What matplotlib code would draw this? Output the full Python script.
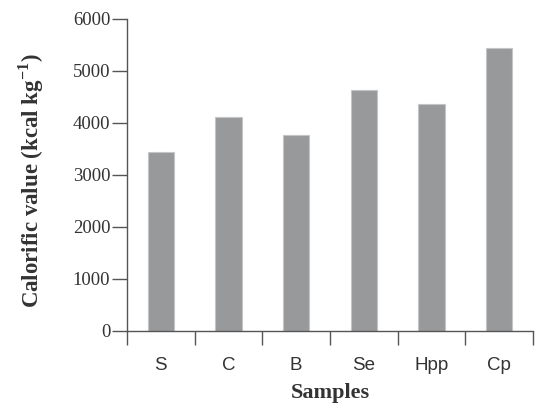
import matplotlib
matplotlib.use("Agg")
import matplotlib.pyplot as plt
import numpy as np

categories = ["S", "C", "B", "Se", "Hpp", "Cp"]
values = [3450, 4120, 3760, 4630, 4370, 5450]
yticks = [0, 1000, 2000, 3000, 4000, 5000, 6000]

plt.rcParams["mathtext.fontset"] = "custom"
plt.rcParams["mathtext.rm"] = "Liberation Serif:bold"
plt.rcParams["mathtext.bf"] = "Liberation Serif:bold"

fig = plt.figure(figsize=(5.45, 4.03), dpi=100)
ax = fig.add_axes([0.233, 0.179, 0.745, 0.774])

x = np.arange(len(categories))
ax.bar(x, values, width=0.39, color="#98999b", edgecolor="#c4c5c7", linewidth=0.8)

ax.set_xlim(-0.5, len(categories) - 0.5)
ax.set_ylim(0, 6000)

ax.spines["top"].set_visible(False)
ax.spines["right"].set_visible(False)
for s in ("left", "bottom"):
    ax.spines[s].set_color("#555555")
    ax.spines[s].set_linewidth(1.0)

ax.set_yticks(yticks)
ax.set_yticklabels([str(v) for v in yticks], fontfamily="Liberation Serif",
                   fontsize=13.5, color="#333333")
ax.tick_params(axis="y", length=11, width=1.0, color="#555555", pad=1)

# major x ticks at category boundaries, labels at centers
ax.set_xticks(np.arange(len(categories) + 1) - 0.5)
ax.set_xticklabels([])
ax.tick_params(axis="x", which="major", length=10, width=1.0, color="#555555")
ax.set_xticks(x, minor=True)
ax.set_xticklabels(categories, minor=True, fontfamily="Liberation Sans",
                   fontsize=13.5, color="#333333")
ax.tick_params(axis="x", which="minor", length=0, pad=19)

ax.set_ylabel("Calorific value (kcal kg$^{\\mathrm{-1}}$)", fontfamily="Liberation Serif",
              fontweight="bold", fontsize=16.5, color="#333333")
ax.yaxis.set_label_coords(-0.2, 0.48)
ax.set_xlabel("Samples", fontfamily="Liberation Serif", fontweight="bold",
              fontsize=16, color="#333333", labelpad=6)

fig.savefig("out.png", dpi=100)
